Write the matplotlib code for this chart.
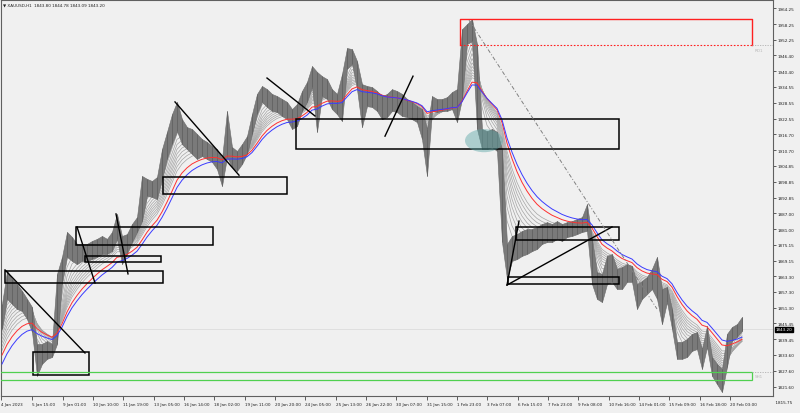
import numpy as np
import matplotlib
matplotlib.use('Agg')
import matplotlib.pyplot as plt
import matplotlib.transforms as mtransforms
from matplotlib.patches import Rectangle, Ellipse

# Price samples (one every ~5 hourly bars)
highs = [1852.8, 1865.2, 1862.2, 1860.3, 1857.7, 1854.7, 1851.6, 1837.7, 1837.7, 1838.8,
         1837.7, 1864.1, 1870.5, 1879.9, 1878.0, 1875.4, 1875.4, 1875.4, 1876.5, 1877.3,
         1878.4, 1877.3, 1879.9, 1886.7, 1878.4, 1879.1, 1882.9, 1885.5, 1901.0, 1899.9,
         1899.1, 1900.6, 1911.1, 1917.6, 1924.3, 1928.9, 1922.4, 1919.4, 1918.7, 1916.8,
         1914.9, 1913.8, 1912.3, 1911.1, 1907.4, 1925.5, 1911.9, 1910.4, 1913.0, 1916.0,
         1924.3, 1931.9, 1934.9, 1933.7, 1931.9, 1931.1, 1930.0, 1928.9, 1926.2, 1928.1,
         1933.0, 1936.4, 1942.4, 1940.2, 1938.6, 1937.5, 1933.7, 1931.9, 1939.4, 1949.2,
         1948.8, 1944.3, 1935.6, 1934.9, 1934.5, 1933.0, 1931.1, 1931.9, 1933.7, 1933.0,
         1931.9, 1930.0, 1928.9, 1927.3, 1926.2, 1918.7, 1931.1, 1930.0, 1930.0, 1930.7,
         1932.6, 1933.7, 1956.3, 1958.2, 1960.1, 1950.7, 1918.7, 1917.9, 1918.7, 1917.6,
         1911.1, 1875.4, 1878.4, 1879.1, 1880.3, 1881.0, 1881.0, 1881.8, 1882.9, 1883.6,
         1882.9, 1884.0, 1882.9, 1883.6, 1884.0, 1884.8, 1885.5, 1890.4, 1877.3, 1864.8,
         1864.1, 1870.9, 1871.6, 1866.0, 1866.7, 1867.8, 1867.1, 1860.3, 1861.4, 1863.0,
         1866.0, 1870.5, 1858.4, 1859.2, 1850.9, 1838.5, 1838.5, 1839.6, 1841.5, 1842.2,
         1835.8, 1844.5, 1832.8, 1830.2, 1828.3, 1841.5, 1844.1, 1845.2, 1847.9]
lows = [1843.4, 1854.7, 1852.8, 1850.9, 1850.1, 1847.1, 1842.2, 1825.7, 1830.2, 1832.1,
        1832.8, 1837.7, 1860.3, 1870.5, 1869.0, 1867.8, 1869.0, 1869.0, 1869.7, 1870.5,
        1871.6, 1871.6, 1872.7, 1877.3, 1867.8, 1871.6, 1876.1, 1879.9, 1884.0, 1893.5,
        1893.1, 1892.3, 1899.9, 1907.4, 1913.0, 1917.9, 1913.0, 1911.1, 1909.3, 1907.4,
        1908.5, 1907.4, 1906.3, 1903.6, 1897.2, 1908.1, 1904.4, 1902.9, 1905.5, 1909.3,
        1916.8, 1924.3, 1928.9, 1927.0, 1925.5, 1925.1, 1923.6, 1922.4, 1918.7, 1919.8,
        1925.5, 1928.9, 1934.5, 1917.6, 1931.1, 1930.0, 1926.2, 1924.3, 1921.7, 1941.3,
        1943.2, 1933.7, 1919.4, 1927.3, 1927.0, 1925.5, 1922.4, 1923.2, 1925.5, 1925.1,
        1923.6, 1923.2, 1922.4, 1921.3, 1914.9, 1901.0, 1925.5, 1925.1, 1925.5, 1925.5,
        1926.2, 1921.3, 1930.0, 1950.7, 1951.8, 1918.7, 1911.1, 1911.1, 1911.9, 1910.4,
        1876.1, 1862.2, 1869.0, 1869.7, 1870.9, 1871.6, 1872.7, 1873.5, 1875.4, 1876.1,
        1876.1, 1877.3, 1876.5, 1878.0, 1878.4, 1879.1, 1879.9, 1880.3, 1860.3, 1854.7,
        1853.5, 1860.3, 1861.1, 1858.4, 1858.4, 1861.1, 1861.1, 1850.9, 1854.7, 1856.5,
        1858.4, 1854.7, 1845.2, 1853.5, 1843.4, 1832.1, 1832.1, 1832.8, 1835.1, 1835.8,
        1828.3, 1836.6, 1825.7, 1822.6, 1819.6, 1829.1, 1838.8, 1840.4, 1842.6]

# moving average fan (spans in samples) and their values at the left edge
gray_spans = [2.6, 3.4, 4.2, 5.0, 5.8, 6.6, 7.4, 8.3, 9.2, 10.2]
gray_start = [1846, 1844.5, 1843, 1841.5, 1840, 1838.5, 1837, 1835.5, 1834, 1832.5]
red_span, red_start = 12.5, 1831.0
blue_span, blue_start = 14.5, 1827.5

# date axis
date_ticks = [-0.2, 6.0, 12.1, 18.1, 24.2, 30.3, 36.3, 42.4, 48.5, 54.5, 60.6, 66.7, 72.7,
              78.8, 84.9, 90.9, 97.0, 103.1, 109.1, 115.2, 121.3, 127.3, 133.4, 139.5, 145.5]
date_labels = ['4 Jan 2023', '5 Jan 15:00', '9 Jan 01:00', '10 Jan 10:00', '11 Jan 19:00',
               '13 Jan 05:00', '16 Jan 14:00', '18 Jan 02:00', '19 Jan 11:00', '20 Jan 20:00',
               '24 Jan 05:00', '25 Jan 13:00', '26 Jan 22:00', '30 Jan 07:00', '31 Jan 15:00',
               '1 Feb 23:00', '3 Feb 07:00', '6 Feb 15:00', '7 Feb 23:00', '9 Feb 08:00',
               '10 Feb 16:00', '14 Feb 01:00', '15 Feb 09:00', '16 Feb 18:00', '20 Feb 03:00']
price_ticks = [1964.25, 1958.25, 1952.25, 1946.40, 1940.40, 1934.55, 1928.55, 1922.55,
               1916.70, 1910.70, 1904.85, 1898.85, 1892.85, 1887.00, 1881.00, 1875.15,
               1869.15, 1863.30, 1857.30, 1851.30, 1845.45, 1839.45, 1833.60, 1827.60, 1821.60]
last_price = 1843.20

# drawn objects: boxes (x0, x1, low, high) and trend lines (x0, x1, p0, p1)
black_boxes = [(6.2, 17.4, 1826.0, 1834.7), (0.6, 32.2, 1860.7, 1865.2),
               (16.6, 31.8, 1868.6, 1870.9), (14.8, 42.2, 1875.0, 1881.8),
               (32.2, 57.0, 1894.2, 1900.6), (58.8, 123.4, 1911.1, 1922.4),
               (102.8, 123.4, 1876.9, 1881.8), (101.2, 123.4, 1860.3, 1863.0)]
trend_lines = [(0.6, 16.6, 1865.6, 1834.3), (15.0, 18.6, 1881.8, 1860.7),
               (22.8, 25.2, 1886.7, 1864.1), (34.6, 47.4, 1928.9, 1901.3),
               (53.0, 62.6, 1937.9, 1923.6), (76.6, 82.2, 1916.0, 1938.6),
               (101.0, 103.4, 1859.9, 1884.0), (101.0, 122.0, 1859.9, 1881.8)]
supply_zone = (91.6, 150.0, 1950.3, 1960.1)
demand_zone = (-1.4, 150.0, 1824.2, 1827.2)
fib_line = (93.4, 131.0, 1959.7, 1850.9)
marker = (96.4, 1914.3)


def ema(values, span, start):
    a = 2.0 / (span + 1)
    out = []
    v = start
    for p in values:
        v = v + a * (p - v)
        out.append(v)
    return np.array(out)


highs = np.array(highs)
lows = np.array(lows)
mids = (highs + lows) / 2
x = np.arange(len(highs))

bg = '#f0f0f0'
fig = plt.figure(figsize=(8, 4.14), dpi=100, facecolor=bg)
ax = fig.add_axes([1 / 800, 17 / 414, 772 / 800, 396 / 414], facecolor=bg)
ax.set_xlim(-0.2, 154.2)
ax.set_ylim(1818.1, 1967.3)

# current price line
ax.axhline(last_price, color='#dcdcdc', lw=0.6, zorder=1)

# ma fan, gray part under the candles
for span, st in zip(gray_spans, gray_start):
    ax.plot(x, ema(mids, span, st), color='#a4a4a4', lw=0.5, zorder=2)

# candles
ax.fill_between(x, lows, highs, color='#7a7a7a', lw=0.4, ec='#6a6a6a', zorder=3)
ax.vlines(x, lows, highs, color='#626262', lw=0.6, zorder=3)

ax.plot(x, ema(mids, red_span, red_start), color='#ff3030', lw=0.7, zorder=4)
ax.plot(x, ema(mids, blue_span, blue_start), color='#3a3aff', lw=0.7, zorder=4)

# boxes
for x0, x1, lo, hi in black_boxes:
    ax.add_patch(Rectangle((x0, lo), x1 - x0, hi - lo, fill=False, ec='black', lw=1.1, zorder=5))
for x0, x1, p0, p1 in trend_lines:
    ax.plot([x0, x1], [p0, p1], color='black', lw=1.0, zorder=5)

x0, x1, lo, hi = supply_zone
ax.plot([x0, x0, x1, x1], [lo, hi, hi, lo], color='#ff2020', lw=1.0, zorder=5)
ax.plot([x0, x1], [lo, lo], color='#ff2020', lw=0.8, ls=(0, (1.5, 1.5)), zorder=5)
ax.plot([x1, 154.2], [lo, lo], color='#b0b0b0', lw=0.6, ls=(0, (1.5, 1.5)), zorder=5)
ax.text(x1 + 0.6, lo - 1.0, 'RD1', fontsize=3, color='#b8b8b8', va='top', ha='left')

x0, x1, lo, hi = demand_zone
ax.add_patch(Rectangle((x0, lo), x1 - x0, hi - lo, fill=False, ec='#50d050', lw=0.9, zorder=5))
ax.plot([x1, 154.2], [hi, hi], color='#b0b0b0', lw=0.6, ls=(0, (1.5, 1.5)), zorder=5)
ax.text(x1 + 0.6, (lo + hi) / 2, 'SH1', fontsize=3, color='#b8b8b8', va='center', ha='left')

x0, x1, p0, p1 = fib_line
ax.plot([x0, x1], [p0, p1], color='#808080', lw=0.7, ls=(0, (4, 2, 1, 2)), zorder=5)

ax.add_patch(Ellipse(marker, 7.6, 8.7, fc='#5aa6a6', alpha=0.45, lw=0, zorder=6))

# header
ax.text(0.003, 0.993, '\u25bc XAUUSD,H1  1843.80 1844.78 1843.09 1843.20',
        transform=ax.transAxes, fontsize=3, va='top', ha='left', color='#202020')

# axes styling
for s in ax.spines.values():
    s.set_color('#606060')
    s.set_linewidth(0.8)
ax.yaxis.tick_right()
ax.set_yticks(price_ticks)
ax.set_yticklabels(['%.2f' % p for p in price_ticks])
ax.tick_params(axis='y', labelsize=3, length=2, width=0.5, pad=1.5, colors='#202020')
ax.set_xticks(date_ticks)
ax.set_xticklabels(date_labels)
ax.tick_params(axis='x', labelsize=3, length=3, width=0.5, pad=1.5, colors='#202020')
for lab in ax.get_xticklabels():
    lab.set_horizontalalignment('left')

trans = mtransforms.blended_transform_factory(ax.transAxes, ax.transData)
ax.text(1.0, 1815.75, '  1815.75', transform=trans, fontsize=3, va='center', ha='left',
        color='#202020', clip_on=False)
ax.text(1.004, last_price, '1843.20', transform=trans, fontsize=3, va='center', ha='left',
        color='white', clip_on=False,
        bbox=dict(boxstyle='square,pad=0.15', fc='black', ec='black'))

fig.savefig('out.png', dpi=100, facecolor=bg)
